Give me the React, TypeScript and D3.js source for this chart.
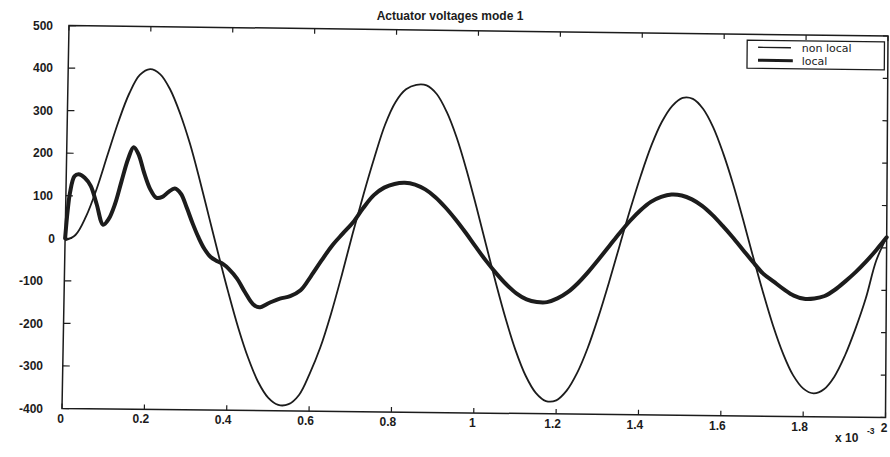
import React from "react";
import * as d3 from "d3";

// time axis in units of 1e-3 s
const tNonLocal = [
  0, 0.025, 0.05, 0.075, 0.1, 0.125, 0.15, 0.175, 0.2, 0.225, 0.25, 0.275, 0.3, 0.325, 0.35, 0.375, 0.4,
  0.425, 0.45, 0.475, 0.5, 0.525, 0.55, 0.575, 0.6, 0.625, 0.65, 0.675, 0.7, 0.725, 0.75, 0.775, 0.8,
  0.825, 0.85, 0.875, 0.9, 0.925, 0.95, 0.975, 1.0, 1.025, 1.05, 1.075, 1.1, 1.125, 1.15, 1.175, 1.2,
  1.225, 1.25, 1.275, 1.3, 1.325, 1.35, 1.375, 1.4, 1.425, 1.45, 1.475, 1.5, 1.525, 1.55, 1.575, 1.6,
  1.625, 1.65, 1.675, 1.7, 1.725, 1.75, 1.775, 1.8, 1.825, 1.85, 1.875, 1.9, 1.925, 1.95, 1.975, 2.0,
];
const nonLocal = [
  -5, 8, 52, 118, 198, 276, 342, 386, 400, 388, 352, 296, 226, 142, 52, -38, -125,
  -206, -276, -332, -369, -386, -384, -362, -312, -250, -170, -78, 20, 112, 198, 276, 330,
  360, 371, 370, 350, 308, 248, 172, 86, -4, -94, -178, -252, -311, -351, -370, -368,
  -345, -303, -244, -171, -89, -2, 84, 164, 235, 291, 329, 348, 346, 323, 280, 219,
  146, 63, -24, -108, -186, -252, -303, -334, -345, -335, -305, -256, -193, -120, -30, 25,
];

const tLocal = [
  0, 0.005, 0.01, 0.02, 0.03, 0.045, 0.06, 0.075, 0.092, 0.105, 0.12, 0.135, 0.15, 0.163, 0.175,
  0.19, 0.205, 0.22, 0.235, 0.25, 0.265, 0.28, 0.295, 0.31, 0.325, 0.34, 0.355, 0.37, 0.385, 0.4,
  0.42, 0.44, 0.46, 0.475, 0.5, 0.525, 0.55, 0.575, 0.6, 0.625, 0.65, 0.675, 0.7, 0.725, 0.75,
  0.775, 0.8, 0.825, 0.85, 0.875, 0.9, 0.925, 0.95, 0.975, 1.0, 1.025, 1.05, 1.075, 1.1, 1.125,
  1.15, 1.175, 1.2, 1.225, 1.25, 1.275, 1.3, 1.325, 1.35, 1.375, 1.4, 1.425, 1.45, 1.475, 1.5,
  1.525, 1.55, 1.575, 1.6, 1.625, 1.65, 1.675, 1.7, 1.725, 1.75, 1.775, 1.8, 1.825, 1.85, 1.875,
  1.9, 1.925, 1.95, 1.975, 2.0,
];
const local = [
  0, 65, 108, 146, 151, 143, 124, 82, 33, 46, 82, 136, 188, 216, 200,
  155, 118, 98, 100, 112, 120, 108, 75, 38, 5, -22, -40, -49, -56, -68,
  -90, -122, -150, -157, -146, -136, -130, -116, -82, -45, -10, 18, 45, 80, 110,
  128, 137, 140, 136, 125, 107, 83, 55, 24, -9, -41, -70, -96, -117, -131,
  -137, -137, -128, -113, -91, -64, -34, -3, 28, 57, 82, 102, 114, 120, 118,
  109, 94, 73, 48, 21, -8, -37, -64, -82, -100, -115, -122, -121, -115, -100,
  -80, -58, -33, -5, 25,
];

const xTicks = [0, 0.2, 0.4, 0.6, 0.8, 1, 1.2, 1.4, 1.6, 1.8, 2];
const xTickLabels = ["0", "0.2", "0.4", "0.6", "0.8", "1", "1.2", "1.4", "1.6", "1.8", "2"];
const yTicks = [500, 400, 300, 200, 100, 0, -100, -200, -300, -400];
const yTickLabels = ["500", "400", "300", "200", "100", "0", "-100", "-200", "-300", "-400"];
const seriesNames = ["non local", "local"];
const titleText = "Actuator voltages mode 1";

const W = 890;
const H = 457;
const L = 62, R = 885.5, T = 26, B = 408.5;
// slightly skewed scan: actual corner positions
const TL = [69, 25.5], TR = [888, 36], BL = [62, 408.5], BR = [885.5, 417.5];

function warp(x: number, y: number): [number, number] {
  const u = (x - L) / (R - L);
  const v = (y - T) / (B - T);
  const tx = TL[0] + (TR[0] - TL[0]) * u, ty = TL[1] + (TR[1] - TL[1]) * u;
  const bx = BL[0] + (BR[0] - BL[0]) * u, by = BL[1] + (BR[1] - BL[1]) * u;
  return [tx + (bx - tx) * v, ty + (by - ty) * v];
}

const xScale = d3.scaleLinear().domain([0, 2]).range([L, R]);
const yScale = d3.scaleLinear().domain([-400, 500]).range([B, T]);

const lineGen = d3
  .line<[number, number]>()
  .x((d) => warp(xScale(d[0]), yScale(d[1]))[0])
  .y((d) => warp(xScale(d[0]), yScale(d[1]))[1])
  .curve(d3.curveCatmullRom.alpha(0.5));

const ink = "#1c1c1c";
const font = "'Liberation Sans', Arial, Helvetica, sans-serif";
const legendFont = "'DejaVu Sans', sans-serif";

function seg(p: [number, number], q: [number, number]) {
  return `M${p[0]},${p[1]}L${q[0]},${q[1]}`;
}

export default function App() {
  const nlPts = tNonLocal.map((t, i) => [t, nonLocal[i]] as [number, number]);
  const lPts = tLocal.map((t, i) => [t, local[i]] as [number, number]);

  const frame = [warp(L, T), warp(R, T), warp(R, B), warp(L, B)];
  const framePath = "M" + frame.map((p) => p.join(",")).join("L") + "Z";

  let tickPath = "";
  xTicks.forEach((t) => {
    const x = xScale(t);
    tickPath += seg(warp(x, B), warp(x, B - 5));
    tickPath += seg(warp(x, T), warp(x, T + 5));
  });
  yTicks.forEach((v) => {
    const y = yScale(v);
    tickPath += seg(warp(L, y), warp(L + 7, y));
    tickPath += seg(warp(R, y), warp(R - 5, y));
  });

  // legend in ideal frame coordinates
  const lgX0 = 744, lgY0 = 32, lgX1 = 882, lgY1 = 60;
  const lgBox = [warp(lgX0, lgY0), warp(lgX1, lgY0), warp(lgX1, lgY1), warp(lgX0, lgY1)];
  const lgPath = "M" + lgBox.map((p) => p.join(",")).join("L") + "Z";
  const row1 = lgY0 + 7, row2 = lgY0 + 20;

  return (
    <svg
      width={W}
      height={H}
      viewBox={`0 0 ${W} ${H}`}
      style={{ position: "absolute", left: 0, top: 0, background: "#ffffff" }}
    >
      <rect x={0} y={0} width={W} height={H} fill="#ffffff" />
      <text
        x={450}
        y={20}
        textAnchor="middle"
        fontFamily={font}
        fontWeight="bold"
        fontSize={12}
        fill={ink}
      >
        {titleText}
      </text>

      <path d={framePath} fill="none" stroke={ink} strokeWidth={1.5} />
      <path d={tickPath} fill="none" stroke={ink} strokeWidth={1.2} />

      {xTicks.map((t, i) => {
        const p = warp(xScale(t), B);
        const lab = xTickLabels[i];
        const dx = lab.length > 1 ? -3.5 : -1.5;
        return (
          <text
            key={"xl" + i}
            x={p[0] + dx}
            y={p[1] + 14}
            textAnchor="middle"
            fontFamily={font}
            fontWeight="bold"
            fontSize={12}
            fill={ink}
          >
            {lab}
          </text>
        );
      })}

      {yTicks.map((v, i) => {
        const p = warp(L, yScale(v));
        const right = v > 0 ? 53 : v === 0 ? 55 : 43;
        return (
          <text
            key={"yl" + i}
            x={right}
            y={p[1] + 4.3}
            textAnchor="end"
            fontFamily={font}
            fontWeight="bold"
            fontSize={12}
            fill={ink}
          >
            {yTickLabels[i]}
          </text>
        );
      })}

      <text x={835} y={442} fontFamily={font} fontWeight="bold" fontSize={12} fill={ink}>
        x 10
      </text>
      <text x={867} y={434} fontFamily={font} fontWeight="bold" fontSize={8.5} fill={ink}>
        -3
      </text>

      <path d={lineGen(nlPts) || ""} fill="none" stroke={ink} strokeWidth={1.8} strokeLinejoin="round" />
      <path d={lineGen(lPts) || ""} fill="none" stroke={ink} strokeWidth={4} strokeLinejoin="round" strokeLinecap="round" />

      <path d={lgPath} fill="#ffffff" stroke={ink} strokeWidth={1.3} />
      <path d={seg(warp(lgX0 + 11, row1), warp(lgX0 + 44, row1))} stroke={ink} strokeWidth={1.4} />
      <path d={seg(warp(lgX0 + 11, row2), warp(lgX0 + 46, row2))} stroke={ink} strokeWidth={3} />
      {[row1, row2].map((ry, i) => {
        const p = warp(lgX0 + 55, ry);
        return (
          <text
            key={"lg" + i}
            x={p[0]}
            y={p[1] + 4}
            fontFamily={legendFont}
            fontSize={11}
            fill={ink}
          >
            {seriesNames[i]}
          </text>
        );
      })}
    </svg>
  );
}
